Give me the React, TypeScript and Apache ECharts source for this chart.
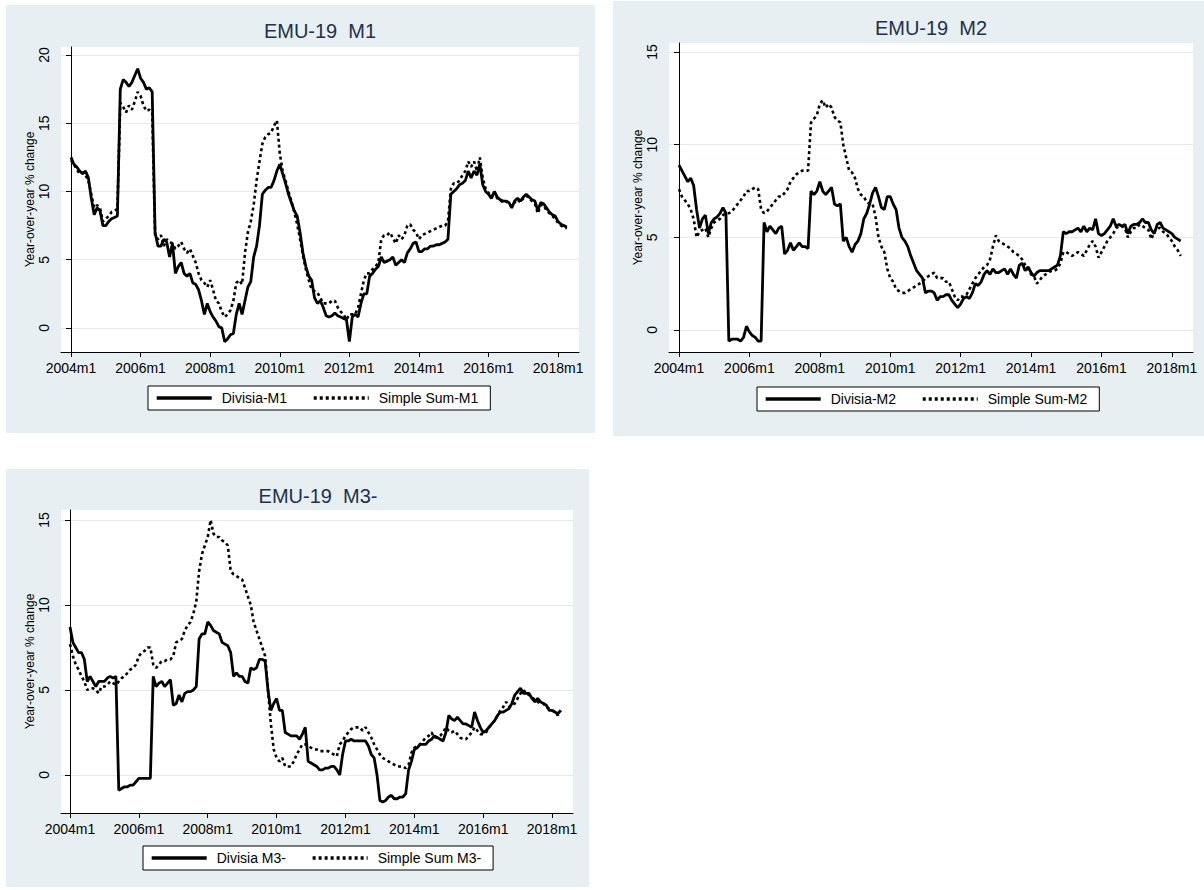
import React, { useEffect, useRef } from "react";
import * as echarts from "echarts";

// ---------- categories / ticks ----------
const N_MONTHS = 172; // 2004m1 .. 2018m4
const months: string[] = [];
for (let i = 0; i < N_MONTHS; i++) {
  months.push(`${2004 + Math.floor(i / 12)}m${(i % 12) + 1}`);
}
const xTickIndex = [0, 24, 48, 72, 96, 120, 144, 168]; // 2004m1 ... 2018m1
const yTicksM1 = [0, 5, 10, 15, 20];
const yTicksM2 = [0, 5, 10, 15];
const yTicksM3 = [0, 5, 10, 15];

// ---------- series values (year-over-year % change, monthly) ----------
const divisiaM1 = [
  12.5, 12.0, 11.8, 11.5, 11.3, 11.5, 11.0, 9.5, 8.3, 8.8, 8.6, 7.5,
  7.5, 7.8, 8.0, 8.1, 8.2, 17.5, 18.2, 18.0, 17.7, 18.0, 18.5, 19.0,
  18.3, 18.0, 17.5, 17.6, 17.3, 7.0, 6.0, 6.0, 6.5, 6.3, 5.2, 6.2,
  4.0, 4.5, 4.8, 4.0, 3.8, 4.0, 3.3, 3.2, 2.8, 2.0, 1.0, 1.8,
  1.2, 0.8, 0.5, 0.1, 0.0, -1.0, -0.8, -0.5, -0.4, 1.0, 1.8, 1.0,
  2.0, 3.0, 3.4, 5.2, 6.0, 7.5, 9.8, 10.1, 10.3, 10.3, 10.8, 11.5,
  12.0, 11.3, 10.6, 9.8, 9.2, 8.6, 8.2, 7.0, 5.5, 4.5, 3.8, 3.5,
  2.2, 1.8, 2.0, 1.5, 0.9, 0.8, 0.9, 1.1, 0.9, 0.8, 0.7, 0.6,
  -1.0, 0.8, 1.0, 0.8, 1.8, 2.5, 2.5, 3.8, 4.0, 4.3, 4.5, 5.2,
  4.8, 4.9, 5.0, 5.2, 4.6, 4.8, 5.0, 4.8, 5.5, 5.8, 6.2, 6.3,
  5.6, 5.6, 5.8, 5.8, 6.0, 6.0, 6.1, 6.1, 6.2, 6.3, 6.5, 9.8,
  10.0, 10.2, 10.5, 10.6, 10.8, 11.5, 11.0, 11.5, 11.2, 12.0, 10.5, 10.0,
  9.8, 9.5, 10.0, 9.6, 9.4, 9.3, 9.3, 9.2, 8.8, 9.3, 9.5, 9.3,
  9.6, 9.8, 9.6, 9.4, 9.3, 8.6, 9.2, 9.1, 8.8, 8.5, 8.3, 8.2,
  7.8, 7.6, 7.5, 7.4,
];
const simpleSumM1 = [
  12.3, 12.0, 11.6, 11.3, 11.4, 11.2, 10.8, 9.8, 8.8, 9.0, 8.8, 7.8,
  8.0, 8.2, 8.5, 8.6, 8.7, 16.5, 16.2, 15.8, 16.3, 16.0, 16.6, 17.3,
  17.0, 16.3, 15.9, 16.0, 15.8, 6.8, 6.5, 6.8, 6.0, 6.5, 6.3, 6.2,
  5.8, 6.0, 6.3, 5.8, 5.5, 5.8, 5.3, 4.8, 4.0, 3.5, 3.3, 3.0,
  3.5, 2.8, 2.0, 1.8, 1.2, 0.8, 1.0, 1.3, 2.0, 3.3, 3.5, 3.2,
  5.5, 7.0, 7.8, 9.0, 10.8, 12.2, 13.5, 14.0, 14.2, 14.3, 14.8, 15.2,
  12.8, 11.5, 10.8, 10.0, 9.3, 8.5, 7.6, 6.5, 5.3, 4.3, 3.5, 2.8,
  2.7, 2.6, 2.2, 1.8, 1.8, 1.8, 2.0, 2.0, 1.5, 1.2, 1.0, 0.6,
  1.0, 1.0, 1.0, 1.5, 2.5, 3.5, 4.0, 4.0, 4.3, 4.5, 4.8, 6.5,
  6.8, 6.8, 7.0, 6.6, 6.2, 6.8, 6.5, 6.8, 7.5, 7.6, 7.2, 7.0,
  6.5, 6.8, 6.9, 7.0, 7.1, 7.2, 7.3, 7.4, 7.5, 7.5, 7.8, 10.2,
  10.6, 10.6, 10.8, 11.2, 11.5, 12.2, 11.8, 12.2, 11.5, 12.5, 11.0, 10.2,
  9.9, 9.6, 10.0, 9.5, 9.4, 9.2, 9.3, 9.1, 8.9, 9.2, 9.4, 9.2,
  9.5, 9.7, 9.5, 9.3, 9.1, 8.4, 9.0, 9.0, 8.6, 8.4, 8.2, 8.0,
  7.7, 7.5, 7.4, 7.3,
];
const divisiaM2 = [
  8.9, 8.6, 8.3, 8.0, 8.2, 7.8, 6.5, 5.5, 6.0, 6.2, 5.2, 5.8,
  6.0, 6.1, 6.3, 6.6, 6.3, -0.6, -0.5, -0.5, -0.5, -0.6, -0.4, 0.2,
  -0.1, -0.3, -0.4, -0.6, -0.6, 5.8, 5.3, 5.6, 5.4, 5.2, 5.5, 5.6,
  4.1, 4.3, 4.7, 4.3, 4.5, 4.7, 4.5, 4.5, 4.4, 7.5, 7.3, 7.5,
  8.0, 7.5, 7.3, 7.5, 7.7, 6.8, 6.7, 6.8, 4.8, 5.0, 4.5, 4.2,
  4.6, 4.8, 5.2, 6.0, 6.3, 6.8, 7.4, 7.7, 7.2, 6.6, 6.5, 7.2,
  7.2, 6.8, 6.5, 5.5, 5.0, 4.8, 4.5, 4.0, 3.6, 3.2, 3.0, 2.8,
  2.0, 2.1, 2.1, 2.0, 1.6, 1.8, 1.8, 1.9, 1.9, 1.6, 1.4, 1.2,
  1.4, 1.7, 1.8, 1.7, 2.0, 2.5, 2.4, 2.6, 3.0, 3.2, 3.0, 3.3,
  3.1, 3.1, 3.2, 3.3, 3.0, 3.3, 3.0, 2.8, 3.5, 3.6, 3.2, 3.4,
  3.1, 2.9, 3.1, 3.2, 3.2, 3.2, 3.2, 3.3, 3.4, 3.5, 4.0, 5.3,
  5.2, 5.3, 5.3, 5.4, 5.5, 5.3, 5.6, 5.3, 5.5, 5.4, 6.0, 5.2,
  5.1, 5.2, 5.4, 5.6, 6.0, 5.6, 5.7, 5.6, 5.7, 5.2, 5.6, 5.7,
  5.7, 5.8, 6.0, 5.8, 5.8, 5.4, 5.2, 5.7, 5.8, 5.5, 5.4, 5.3,
  5.2, 5.0, 4.9, 4.8,
];
const simpleSumM2 = [
  7.6, 7.2, 7.0, 6.8, 6.5, 6.0, 5.0, 5.3, 5.4, 5.5, 5.0, 5.5,
  5.8, 5.9, 6.0, 6.2, 6.3, 6.3, 6.4, 6.6, 6.8, 7.0, 7.2, 7.5,
  7.5, 7.6, 7.7, 7.6, 6.5, 6.3, 6.4, 6.6, 6.8, 7.0, 7.2, 7.2,
  7.4, 7.6, 8.0, 8.2, 8.4, 8.5, 8.6, 8.6, 8.6, 11.2, 11.4, 11.6,
  12.2, 12.4, 12.0, 12.2, 12.0, 11.5, 11.3, 11.2, 10.0, 9.3, 8.6, 8.5,
  8.2, 7.6, 7.3, 7.2, 6.9, 6.8, 6.8, 6.1, 5.0, 4.5, 4.2, 3.3,
  2.8, 2.6, 2.2, 2.1, 2.0, 2.0, 2.1, 2.2, 2.3, 2.4, 2.5, 2.6,
  2.8, 2.9, 3.0, 3.1, 2.8, 2.8, 2.8, 2.6, 2.6, 2.2, 1.8, 1.6,
  1.8, 1.8, 1.9, 2.2, 2.5, 2.8, 3.0, 3.2, 3.4, 3.5, 3.8, 4.5,
  5.1, 4.8, 4.7, 4.6, 4.5, 4.4, 4.2, 4.1, 4.0, 3.8, 3.5, 3.3,
  3.0, 2.9, 2.5, 2.7, 2.9, 3.0, 3.1, 3.2, 3.2, 3.3, 3.6, 4.2,
  4.2, 4.1, 4.0, 4.1, 4.2, 4.1, 4.0, 4.3, 4.6, 4.8, 4.5, 3.9,
  4.2, 4.5, 4.8, 5.0, 5.2, 5.5, 5.6, 5.6, 5.5, 5.0, 5.3, 5.5,
  5.5, 5.7, 5.6, 5.5, 5.4, 4.9, 5.3, 5.5, 5.5, 5.3, 5.2, 5.0,
  4.8, 4.5, 4.3, 4.0,
];
const divisiaM3 = [
  8.7, 7.8, 7.5, 7.2, 7.2, 6.8, 5.5, 5.8, 5.5, 5.2, 5.5, 5.5,
  5.5, 5.7, 5.8, 5.7, 5.8, -0.9, -0.8, -0.7, -0.7, -0.6, -0.6, -0.4,
  -0.2, -0.2, -0.2, -0.2, -0.2, 5.8, 5.2, 5.4, 5.5, 5.2, 5.4, 5.6,
  4.1, 4.2, 4.7, 4.3, 4.8, 4.9, 4.9, 5.0, 5.2, 8.0, 8.3, 8.3,
  9.0, 8.8, 8.5, 8.4, 8.3, 7.8, 7.7, 7.6, 7.2, 5.8, 6.0, 5.8,
  5.8, 5.5, 5.4, 6.3, 6.2, 6.3, 6.8, 6.8, 6.7, 5.0, 3.8, 4.2,
  4.5, 3.8, 3.8, 2.5, 2.4, 2.3, 2.3, 2.3, 2.1, 2.4, 2.8, 0.8,
  0.7, 0.6, 0.5, 0.3, 0.3, 0.4, 0.4, 0.5, 0.5, 0.3, 0.0, 1.2,
  2.0, 2.0, 2.1, 2.0, 2.0, 2.0, 2.0, 2.0, 1.7, 1.2, 1.0, 0.0,
  -1.5, -1.6, -1.5, -1.3, -1.2, -1.4, -1.4, -1.3, -1.3, -1.1, 0.3, 0.8,
  1.5, 1.6, 1.8, 1.8, 1.8, 2.0, 2.1, 2.3, 2.2, 2.1, 2.0, 2.5,
  3.5, 3.3, 3.2, 3.4, 3.2, 3.0, 3.0, 2.9, 2.8, 3.7, 3.2, 2.8,
  2.5, 2.6, 2.8, 3.0, 3.2, 3.5, 3.7, 3.7, 3.8, 3.9, 4.2, 4.7,
  4.9, 5.1, 4.8, 4.8, 4.8, 4.5, 4.3, 4.5, 4.3, 4.2, 4.1, 3.8,
  3.8, 3.7, 3.6, 3.8,
];
const simpleSumM3 = [
  7.7, 7.0, 6.5, 6.2, 5.8, 5.5, 5.0, 5.1, 5.1, 5.0, 4.8, 5.2,
  5.2, 5.3, 5.5, 5.4, 5.3, 5.5, 5.7, 5.8, 6.0, 6.2, 6.3, 6.5,
  7.0, 7.2, 7.3, 7.5, 7.5, 6.5, 6.3, 6.5, 6.7, 6.7, 6.8, 6.8,
  7.0, 7.8, 7.9, 8.0, 8.5, 8.8, 9.0, 9.5, 10.2, 12.0, 13.0, 13.5,
  14.0, 15.0, 14.2, 14.0, 14.0, 13.8, 13.7, 13.5, 12.0, 11.8, 11.7, 11.6,
  11.5, 11.0, 10.5, 10.0, 9.0, 8.5, 8.0, 7.5, 7.0, 5.0, 3.0, 1.5,
  1.0, 0.8, 1.0, 0.5, 0.5, 0.5, 0.8, 1.2, 1.5, 1.8, 1.8, 1.7,
  1.6, 1.5, 1.5, 1.4, 1.4, 1.4, 1.4, 1.3, 1.2, 1.1, 1.8, 2.0,
  2.3, 2.5, 2.7, 2.8, 2.8, 2.8, 2.6, 2.8, 2.5, 2.2, 1.8, 1.5,
  1.2, 1.0, 0.9, 0.8, 0.7, 0.6, 0.5, 0.5, 0.5, 0.4, 0.6, 1.3,
  1.6, 1.7, 1.8, 2.0, 2.2, 2.3, 2.5, 2.2, 2.2, 2.3, 2.5, 2.8,
  2.6, 2.5, 2.6, 2.4, 2.2, 2.1, 2.1, 2.3, 2.5, 2.8, 2.6, 2.4,
  2.4, 2.5, 2.8, 3.0, 3.2, 3.5, 3.8, 4.0, 4.3, 4.0, 4.1, 4.2,
  4.5, 4.8, 5.0, 4.8, 4.7, 4.6, 4.4, 4.3, 4.2, 4.2, 4.0, 3.9,
  3.8, 3.7, 3.5, 3.8,
];

const FONT = "'Liberation Sans', Arial, Helvetica, sans-serif";
const PANEL_BG = "#e8eff2";
const GRID_LINE = "#e1eaed";
const TITLE_COLOR = "#22304e";

type Panel = {
  title: string;
  names: [string, string];
  values: [number[], number[]];
  yTicks: number[];
  yMin: number;
  yMax: number;
  xMin: number;
  xMax: number;
  grid: { left: number; top: number; width: number; height: number };
  legendPos: { left: number; top: number };
  titleXY: [number, number];
  bg: [number, number, number, number];
};

const panels: Panel[] = [
  {
    title: "EMU-19  M1",
    names: ["Divisia-M1", "Simple Sum-M1"],
    values: [divisiaM1, simpleSumM1],
    yTicks: yTicksM1,
    yMin: -1.76,
    yMax: 20.59,
    xMin: -3.45,
    xMax: 175.2,
    grid: { left: 61, top: 47, width: 518, height: 305 },
    legendPos: { left: 148, top: 386 },
    titleXY: [320, 30.5],
    bg: [6, 5, 589, 428],
  },
  {
    title: "EMU-19  M2",
    names: ["Divisia-M2", "Simple Sum-M2"],
    values: [divisiaM2, simpleSumM2],
    yTicks: yTicksM2,
    yMin: -1.19,
    yMax: 15.49,
    xMin: -3.4,
    xMax: 175.2,
    grid: { left: 669, top: 43, width: 524, height: 309 },
    legendPos: { left: 757, top: 387 },
    titleXY: [931, 27.5],
    bg: [613, 1, 591, 435],
  },
  {
    title: "EMU-19  M3-",
    names: ["Divisia M3-", "Simple Sum M3-"],
    values: [divisiaM3, simpleSumM3],
    yTicks: yTicksM3,
    yMin: -2.24,
    yMax: 15.59,
    xMin: -3.14,
    xMax: 175.3,
    grid: { left: 61, top: 510, width: 512, height: 303 },
    legendPos: { left: 143, top: 846 },
    titleXY: [318, 496],
    bg: [6, 469, 583, 418],
  },
];

function buildOption() {
  const grid: any[] = [];
  const xAxis: any[] = [];
  const yAxis: any[] = [];
  const series: any[] = [];
  const legend: any[] = [];
  const graphic: any[] = [];

  panels.forEach((p, k) => {
    graphic.push({
      type: "rect",
      z: -10,
      silent: true,
      shape: { x: p.bg[0], y: p.bg[1], width: p.bg[2], height: p.bg[3] },
      style: { fill: PANEL_BG },
    });
    graphic.push({
      type: "text",
      z: 10,
      silent: true,
      x: p.titleXY[0],
      y: p.titleXY[1],
      style: {
        text: p.title,
        fill: TITLE_COLOR,
        font: `20px ${FONT}`,
        align: "center",
        verticalAlign: "middle",
      },
    });

    grid.push({
      ...p.grid,
      show: true,
      backgroundColor: "#ffffff",
      borderWidth: 0,
      containLabel: false,
      outerBoundsMode: "none",
    });

    xAxis.push({
      type: "value",
      gridIndex: k,
      min: p.xMin,
      max: p.xMax,
      axisLine: { show: true, onZero: false, lineStyle: { color: "#000", width: 1 } },
      axisTick: {
        show: true,
        length: 5,
        customValues: xTickIndex,
        lineStyle: { color: "#000", width: 1 },
      },
      axisLabel: {
        show: true,
        customValues: xTickIndex,
        margin: 9,
        color: "#000",
        fontSize: 14,
        fontFamily: FONT,
        formatter: (v: number) => months[Math.round(v)] ?? "",
      },
      splitLine: { show: false },
    });

    yAxis.push({
      type: "value",
      gridIndex: k,
      min: p.yMin,
      max: p.yMax,
      name: "Year-over-year % change",
      nameLocation: "middle",
      nameRotate: 90,
      nameGap: 24,
      nameTextStyle: { color: "#000", fontSize: 12, fontFamily: FONT },
      axisLine: { show: true, lineStyle: { color: "#000", width: 1 } },
      axisTick: {
        show: true,
        length: 5,
        customValues: p.yTicks,
        lineStyle: { color: "#000", width: 1 },
      },
      axisLabel: {
        show: true,
        customValues: p.yTicks,
        rotate: 90,
        margin: 10,
        color: "#000",
        fontSize: 14,
        fontFamily: FONT,
      },
      splitLine: { show: true, lineStyle: { color: GRID_LINE, width: 1.2 } },
    });

    series.push({
      name: p.names[0],
      type: "line",
      xAxisIndex: k,
      yAxisIndex: k,
      data: p.values[0].map((v, i) => [i, v]),
      symbol: "none",
      showSymbol: false,
      silent: true,
      lineStyle: { color: "#000", width: 2.8, type: "solid" },
      itemStyle: { color: "#000" },
      z: 3,
    });
    series.push({
      name: p.names[1],
      type: "line",
      xAxisIndex: k,
      yAxisIndex: k,
      data: p.values[1].map((v, i) => [i, v]),
      symbol: "none",
      showSymbol: false,
      silent: true,
      lineStyle: { color: "#000", width: 2.6, type: [3, 3] },
      itemStyle: { color: "#000" },
      z: 4,
    });

    legend.push({
      data: p.names,
      orient: "horizontal",
      left: p.legendPos.left,
      top: p.legendPos.top,
      selectedMode: false,
      backgroundColor: "#ffffff",
      borderColor: "#000",
      borderWidth: 1,
      borderRadius: 0,
      padding: [5, 12, 5, 7],
      itemWidth: 55,
      itemHeight: 14,
      itemGap: 25,
      itemStyle: { opacity: 0 },
      lineStyle: { width: 3.4 },
      textStyle: {
        color: "#000",
        fontSize: 14,
        fontFamily: FONT,
        padding: [0, 0, 0, 5],
      },
    });
  });

  return {
    animation: false,
    backgroundColor: "#ffffff",
    textStyle: { fontFamily: FONT },
    tooltip: { show: false },
    graphic,
    grid,
    xAxis,
    yAxis,
    legend,
    series,
  };
}

export default function App() {
  const ref = useRef<HTMLDivElement>(null);
  useEffect(() => {
    document.documentElement.style.margin = "0";
    document.documentElement.style.padding = "0";
    document.body.style.margin = "0";
    document.body.style.padding = "0";
    document.body.style.overflow = "hidden";
    if (!ref.current) return;
    const chart = echarts.init(ref.current, undefined, { renderer: "svg" });
    chart.setOption(buildOption() as any);
    return () => {
      chart.dispose();
    };
  }, []);
  return (
    <div
      ref={ref}
      style={{ position: "relative", margin: 0, width: 1204, height: 890 }}
    />
  );
}
